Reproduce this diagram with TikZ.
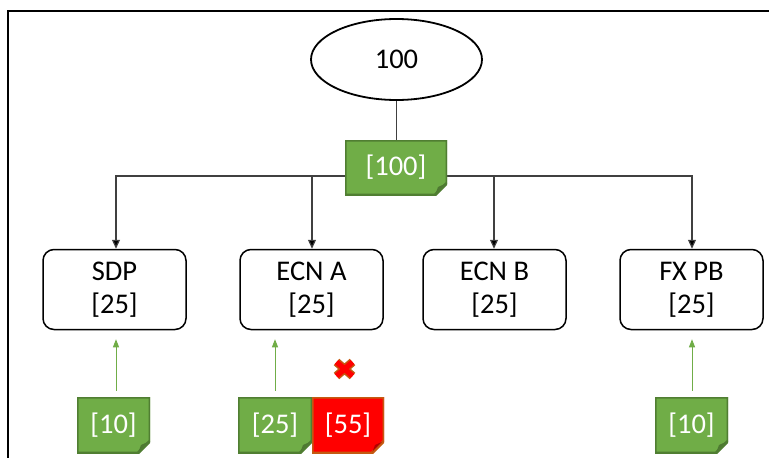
\documentclass[tikz,border=0pt]{standalone}
\usepackage{fontspec}
\setmainfont{Carlito}
\usetikzlibrary{shapes.geometric,arrows.meta,calc}

\definecolor{notegreen}{HTML}{70AD47}
\definecolor{notegreenedge}{HTML}{507E32}
\definecolor{notered}{HTML}{FF0000}
\definecolor{noterededge}{HTML}{C55A11}
\definecolor{wire}{HTML}{404040}

\tikzset{
  lbl/.style={font=\fontsize{28.5}{33}\selectfont},
  unit/.style={lbl, draw=black, line width=1.5pt, rounded corners=11pt,
    minimum width=143pt, minimum height=80pt, inner sep=0pt, align=center},
  root/.style={lbl, ellipse, draw=black, line width=1.8pt,
    minimum width=171pt, minimum height=81pt, inner sep=0pt},
  % sticky note with a folded bottom-right corner
  note/.style n args={4}{lbl, text=white, rectangle, inner sep=0pt,
    minimum width=#1, minimum height=#2,
    path picture={
      \coordinate (pnw) at (path picture bounding box.north west);
      \coordinate (pse) at (path picture bounding box.south east);
      \filldraw[fill=#3, draw=#4, line width=3pt]
        (pnw) -- (pnw -| pse) -- ($(pse)+(0,-12)$) -- ($(pse)+(-12,0)$)
        -- (pnw |- pse) -- cycle;
      \fill[#3!70!black] ($(pse)+(-12,0)$) -- ($(pse)+(0,-12)$)
        -- ($(pse)+(-9,-8)$) -- cycle;
      \draw[#4, line width=1.2pt] ($(pse)+(-12,0)$) -- ($(pse)+(0,-12)$);
    }},
  feed/.style={notegreen, line width=1pt, -{Triangle[length=8pt,width=6pt]}},
  split/.style={wire, line width=1.2pt, -{Triangle[length=9pt,width=8pt,fill=black]}},
}

\begin{document}
\begin{tikzpicture}[x=1pt,y=-1pt]
  \useasboundingbox (0,0) rectangle (769,458);
  \fill[white] (0,0) rectangle (769,458);

  % outer frame
  \draw[line width=2pt] (8,458) -- (8,11) -- (769,11);

  % top of the tree
  \node[root] (total) at (396.5,59.5) {100};

  % distribution targets
  \node[unit] (sdp)  at (114.5,289.5) {SDP\\{}[25]};
  \node[unit] (ecna) at (311.5,289.5) {ECN A\\{}[25]};
  \node[unit] (ecnb) at (494.5,289.5) {ECN B\\{}[25]};
  \node[unit] (fxpb) at (691.5,289.5) {FX PB\\{}[25]};

  % split lines (behind the top note)
  \coordinate (hub) at (396.5,176);
  \draw[wire, line width=1.2pt] (total.south) -- (hub);
  \draw[split] (hub) -| (sdp.north -| 116,0);
  \draw[split] (hub) -| (ecna.north -| 312,0);
  \draw[split] (hub) -| (ecnb.north -| 494,0);
  \draw[split] (hub) -| (fxpb.north -| 692,0);

  % top note
  \node[note={102pt}{55pt}{notegreen}{notegreenedge}] (topnote) at (396,167.5) {[100]};

  % incoming notes
  \node[note={73pt}{56pt}{notegreen}{notegreenedge}] (insdp) at (113.5,425) {[10]};
  \node[note={74pt}{56pt}{notegreen}{notegreenedge}] (inecna) at (275,425) {[25]};
  \node[note={72pt}{56pt}{notered}{noterededge}] (rejecna) at (348,425) {[55]};
  \node[note={73pt}{56pt}{notegreen}{notegreenedge}] (infxpb) at (691.5,425) {[10]};

  \draw[feed] (insdp.north -| 116,0) ++(0,-6) -- ([yshift=-9pt]sdp.south -| 116,0);
  \draw[feed] (inecna.north) ++(0,-6) -- ([yshift=-9pt]ecna.south -| 275,0);
  \draw[feed] (infxpb.north -| 692,0) ++(0,-6) -- ([yshift=-9pt]fxpb.south -| 692,0);

  % rejection mark
  \coordinate (reject) at (344.5,369);
  \foreach \c/\w in {noterededge/8.5pt, notered/5.5pt}
    \draw[\c, line width=\w] ($(reject)+(-8,-7)$) -- ($(reject)+(8,7)$)
      ($(reject)+(-8,7)$) -- ($(reject)+(8,-7)$);
\end{tikzpicture}
\end{document}
